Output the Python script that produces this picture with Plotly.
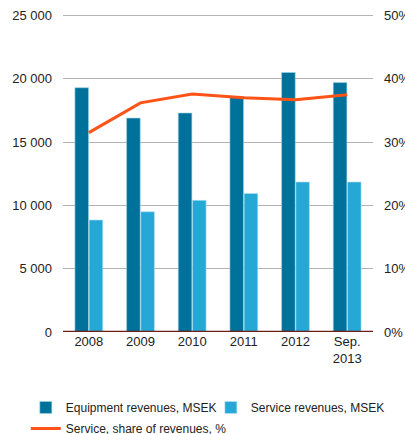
import plotly.graph_objects as go

categories = ["2008", "2009", "2010", "2011", "2012", "Sep.<br>2013"]
equipment = [19300, 16900, 17300, 18600, 20500, 19700]
service = [8850, 9500, 10400, 10950, 11850, 11850]
share = [31.5, 36.2, 37.6, 37.0, 36.7, 37.5]

fig = go.Figure()
fig.add_trace(go.Bar(
    x=categories, y=equipment, name="Equipment revenues, MSEK", legend="legend",
    marker=dict(color="#00719a", line=dict(color="#9fd3e6", width=0.6)),
))
fig.add_trace(go.Bar(
    x=categories, y=service, name="Service revenues, MSEK", legend="legend2",
    marker=dict(color="#25a8d6", line=dict(color="#b5e2f2", width=0.6)),
))
fig.add_trace(go.Scatter(
    x=categories, y=share, name="Service, share of revenues, %", legend="legend3",
    mode="lines", line=dict(color="#ff5317", width=3), yaxis="y2",
))

font = dict(family="Liberation Sans, Arial, sans-serif", size=13, color="#222222")
lfont = dict(size=12, color="#222222")
leg = dict(orientation="h", xanchor="left", yanchor="top", font=lfont, itemwidth=30,
           bgcolor="rgba(0,0,0,0)")
fig.update_layout(
    width=405, height=434,
    margin=dict(l=63, r=32, t=13, b=102, autoexpand=False),
    plot_bgcolor="white", paper_bgcolor="white",
    font=font,
    barmode="group", bargap=0.45, bargroupgap=0.04,
    showlegend=True,
    legend=dict(leg, x=-0.12, y=-0.191),
    legend2=dict(leg, x=0.477, y=-0.191),
    legend3=dict(leg, x=-0.12, y=-0.257),
    xaxis=dict(showgrid=False, showline=False, ticks="", tickfont=font, automargin=False),
    yaxis=dict(range=[0, 25200], tickvals=[0, 5000, 10000, 15000, 20000, 25000],
               ticktext=["0", "5 000", "10 000", "15 000", "20 000", "25 000"],
               showgrid=True, gridcolor="#b3b3b3", gridwidth=1.3, zeroline=False,
               showline=False, ticks="", ticklabelstandoff=10, automargin=False),
    yaxis2=dict(range=[0, 50.4], overlaying="y", side="right",
                tickvals=[0, 10, 20, 30, 40, 50], ticktext=["0%", "10%", "20%", "30%", "40%", "50%"],
                showgrid=False, zeroline=False, showline=False, ticks="", ticklabelstandoff=10,
                automargin=False),
)
fig.add_shape(type="line", xref="paper", yref="y", x0=0, x1=1, y0=0, y1=0,
              line=dict(color="#6e1c1c", width=2.5))
fig.write_html("out.html", config={"displayModeBar": False},
               post_script="document.body.style.margin='0';")
